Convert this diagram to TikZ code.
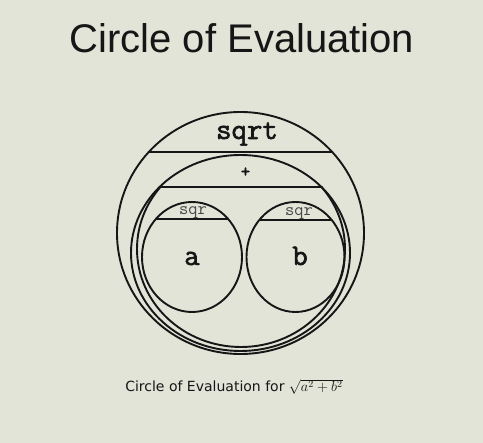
\documentclass[tikz,border=0pt]{standalone}
\usepackage{fontspec}
\setmainfont{Liberation Sans}
\newfontfamily\capfont{DejaVu Sans}
\newfontfamily\opfont[FakeBold=2]{Latin Modern Mono}
\usepackage{tikz}
\usetikzlibrary{positioning}
\definecolor{screen}{RGB}{226,228,216}
\definecolor{ink}{RGB}{22,22,22}
\definecolor{soft}{RGB}{70,70,70}

\begin{document}
\begin{tikzpicture}[x=1pt, y=-1pt,
  ring/.style={draw=ink, line width=1.9pt},
  bar/.style={draw=ink, line width=2pt},
  fname/.style={font=\fontsize{30}{32}\selectfont\opfont, text=ink, anchor=base, inner sep=0pt},
  small/.style={font=\fontsize{18}{20}\selectfont\ttfamily, text=soft, anchor=base, inner sep=0pt},
  title/.style={font=\fontsize{40}{44}\selectfont, text=ink, anchor=base, inner sep=0pt},
  caption/.style={font=\fontsize{14}{16}\selectfont\capfont, text=ink, anchor=base, inner sep=0pt}
]

% Background
\fill[screen] (0,0) rectangle (483,443);

% Title
\node[title] (head) at (242,53) {Circle of Evaluation};

% Outer circle (sqrt)
\draw[ring] (240.5,233) ellipse [x radius=123.5pt, y radius=121pt];
\begin{scope}
  \clip (240.5,233) ellipse [x radius=123.5pt, y radius=121pt];
  \draw[bar] (100,152) -- (380,152);
\end{scope}
\node[fname] (sqrt) at (247,139) {sqrt};

% Middle circle (+)
\draw[ring] (240.5,253) ellipse [x radius=109.5pt, y radius=98pt];
\begin{scope}
  \clip (240.5,253) ellipse [x radius=109.5pt, y radius=98pt];
  \draw[bar] (100,187) -- (380,187);
\end{scope}
\begin{scope}
  \clip (0,187) rectangle (483,443);
  \draw[ring] (241,249) ellipse [x radius=104pt, y radius=98pt];
\end{scope}
\node[small, font=\fontsize{18}{20}\selectfont\opfont, text=ink] (plus) at (245.5,177) {+};

% Inner circles (sqr)
\draw[ring] (192,257) ellipse [x radius=50pt, y radius=55pt];
\draw[ring] (295.5,257) ellipse [x radius=49pt, y radius=55pt];
\begin{scope}
  \clip (192,257) ellipse [x radius=50pt, y radius=55pt];
  \draw[bar] (130,219) -- (250,219);
\end{scope}
\begin{scope}
  \clip (295.5,257) ellipse [x radius=49pt, y radius=55pt];
  \draw[bar] (240,220) -- (350,220);
\end{scope}
\node[small] (sqra) at (193,215) {sqr};
\node[small] (sqrb) at (299,216) {sqr};
\node[fname] (a) at (192,265) {a};
\node[fname] (b) at (300,265) {b};

% Caption
\node[caption] (note) at (234,392) {Circle of Evaluation for \(\sqrt{a^2+b^2}\)};
\end{tikzpicture}
\end{document}
